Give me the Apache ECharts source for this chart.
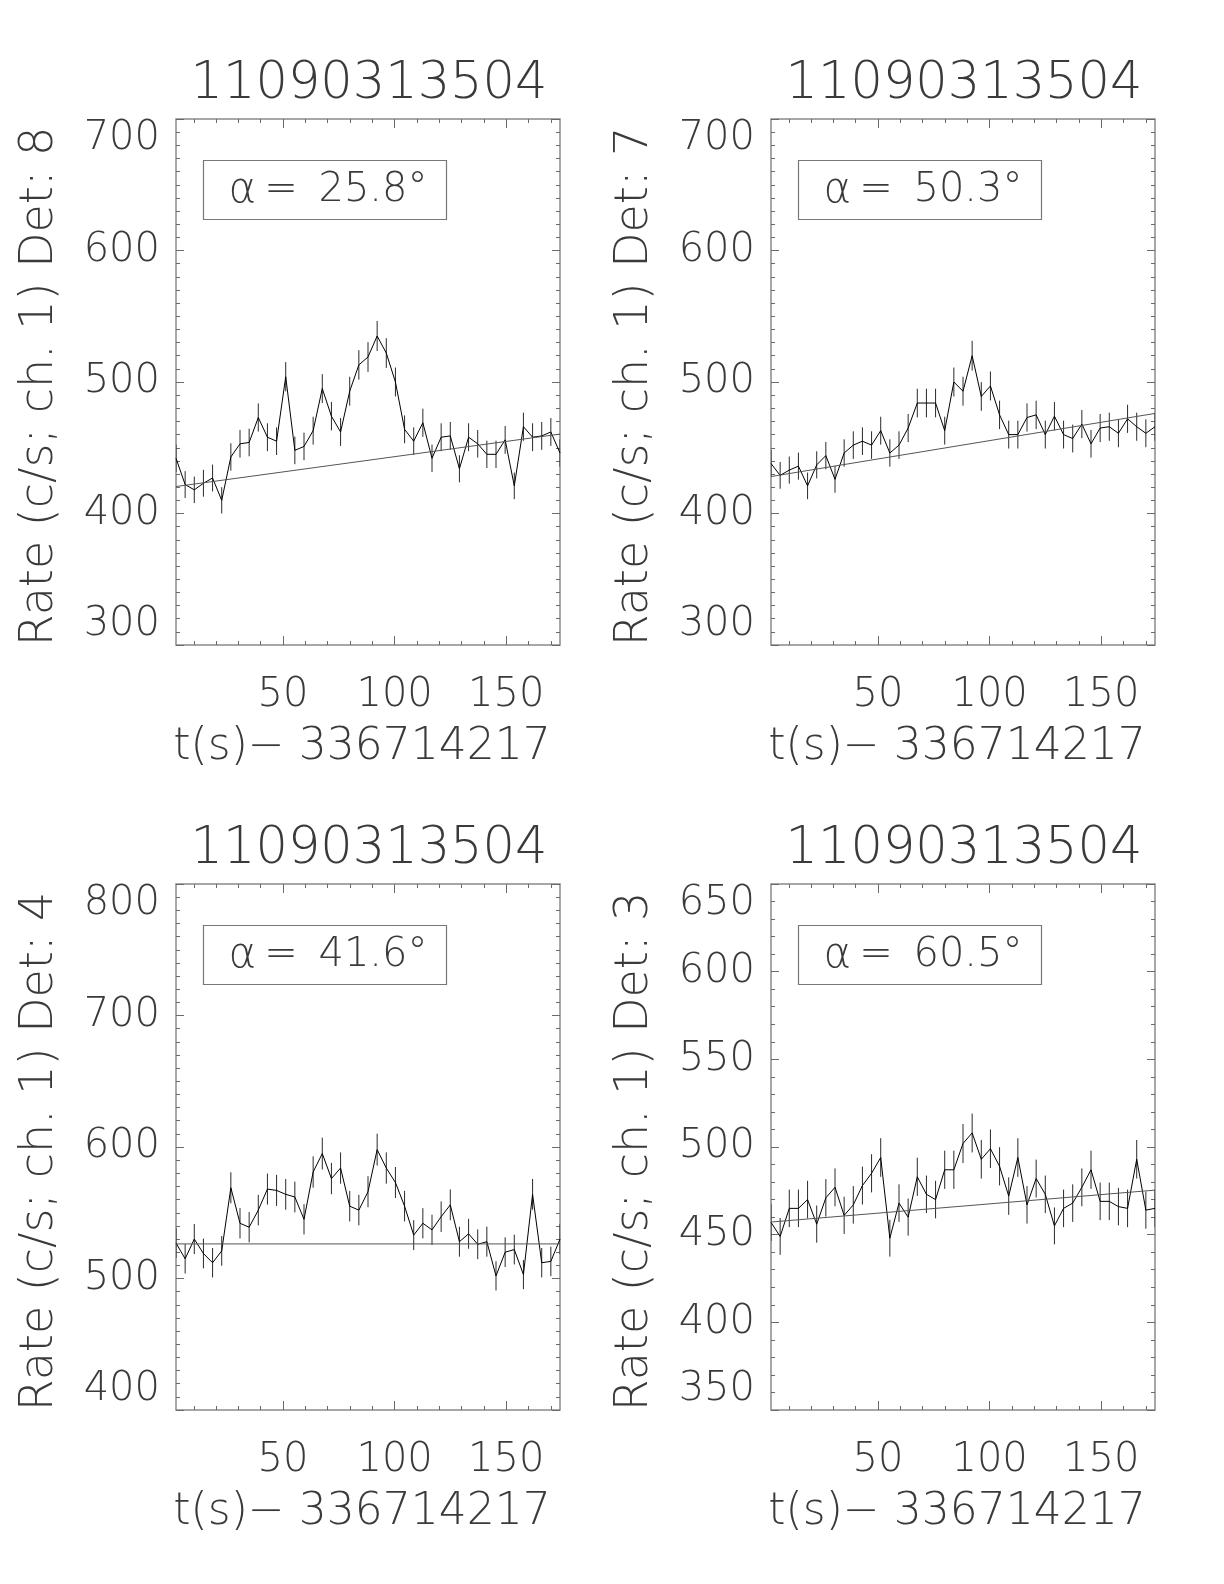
<!DOCTYPE html>
<html>
<head>
<meta charset="utf-8">
<script src="https://cdn.jsdelivr.net/npm/echarts@6/dist/echarts.min.js"></script>
<style>
html,body{margin:0;padding:0;background:#fff;}
#chart{width:1224px;height:1584px;}
</style>
</head>
<body>
<div id="chart"></div>
<script>
// ---------------- data ----------------
const titleText = '11090313504';
const xTitle = 't(s)\u2212 336714217';
const detectors = [8, 7, 4, 3];
const alphas = ['25.8', '50.3', '41.6', '60.5'];
const xTickLabels = [50, 100, 150];
const xMinorTicks = [10, 20, 30, 40, 60, 70, 80, 90, 110, 120, 130, 140, 160, 170];
const xRange = [2.048, 174.08];
const yMins = [300, 300, 400, 350];
const yMaxs = [700, 700, 800, 650];
const yIntervals = [100, 100, 100, 50];
const yMinorSplits = [10, 10, 10, 5];

const times = [2.048, 6.144, 10.24, 14.336, 18.432, 22.528, 26.624, 30.72, 34.816, 38.912,
  43.008, 47.104, 51.2, 55.296, 59.392, 63.488, 67.584, 71.68, 75.776, 79.872,
  83.968, 88.064, 92.16, 96.256, 100.352, 104.448, 108.544, 112.64, 116.736, 120.832,
  124.928, 129.024, 133.12, 137.216, 141.312, 145.408, 149.504, 153.6, 157.696, 161.792,
  165.888, 169.984, 174.08];

const rateDet8 = [442, 422, 418, 423, 427, 410, 443, 453, 454, 473, 458, 455, 504, 448, 451, 463, 495, 474, 462, 493, 513, 519, 535, 522, 500, 464, 455, 469, 442, 458, 459, 434, 458, 453, 445, 445, 456, 421, 466, 458, 459, 462, 446];
const errDet8 = [10.4, 10.2, 10.1, 10.2, 10.2, 10.0, 10.4, 10.5, 10.5, 10.7, 10.6, 10.5, 11.1, 10.5, 10.5, 10.6, 11.0, 10.8, 10.6, 11.0, 11.2, 11.3, 11.4, 11.3, 11.0, 10.6, 10.5, 10.7, 10.4, 10.6, 10.6, 10.3, 10.6, 10.5, 10.4, 10.4, 10.6, 10.1, 10.7, 10.6, 10.6, 10.6, 10.4];
const fitDet8 = [420.5, 460.4];

const rateDet7 = [438, 429, 433, 436, 421, 437, 444, 426, 446, 452, 455, 452, 463, 446, 452, 465, 484, 484, 484, 463, 500, 493, 520, 489, 497, 475, 460, 460, 473, 475, 460, 474, 460, 457, 468, 453, 465, 466, 461, 472, 466, 461, 466];
const errDet7 = [10.3, 10.2, 10.3, 10.3, 10.1, 10.3, 10.4, 10.2, 10.4, 10.5, 10.5, 10.5, 10.6, 10.4, 10.5, 10.7, 10.9, 10.9, 10.9, 10.6, 11.0, 11.0, 11.3, 10.9, 11.0, 10.8, 10.6, 10.6, 10.7, 10.8, 10.6, 10.8, 10.6, 10.6, 10.7, 10.5, 10.7, 10.7, 10.6, 10.7, 10.7, 10.6, 10.7];
const fitDet7 = [428.1, 476.1];

const rateDet4 = [527, 515, 530, 519, 512, 521, 569, 542, 539, 552, 568, 567, 564, 562, 545, 581, 595, 576, 584, 555, 552, 566, 598, 584, 573, 555, 533, 542, 537, 547, 556, 528, 534, 526, 528, 502, 520, 522, 503, 564, 512, 513, 530];
const errDet4 = [11.3, 11.2, 11.4, 11.3, 11.2, 11.3, 11.8, 11.5, 11.5, 11.6, 11.8, 11.8, 11.7, 11.7, 11.5, 11.9, 12.1, 11.9, 11.9, 11.6, 11.6, 11.8, 12.1, 11.9, 11.8, 11.6, 11.4, 11.5, 11.5, 11.6, 11.7, 11.4, 11.4, 11.3, 11.4, 11.1, 11.3, 11.3, 11.1, 11.7, 11.2, 11.2, 11.4];
const fitDet4 = [526.3, 526.3];

const rateDet3 = [457, 449, 465, 465, 470, 456, 471, 477, 461, 467, 478, 485, 494, 448, 468, 460, 483, 473, 470, 487, 487, 502, 508, 493, 499, 489, 472, 494, 467, 482, 473, 455, 465, 468, 477, 487, 469, 469, 466, 465, 493, 464, 465];
const errDet3 = [10.6, 10.5, 10.7, 10.7, 10.7, 10.6, 10.7, 10.8, 10.6, 10.7, 10.8, 10.9, 11.0, 10.5, 10.7, 10.6, 10.9, 10.7, 10.7, 10.9, 10.9, 11.1, 11.1, 11.0, 11.0, 10.9, 10.7, 11.0, 10.7, 10.8, 10.7, 10.5, 10.7, 10.7, 10.8, 10.9, 10.7, 10.7, 10.7, 10.7, 11.0, 10.6, 10.7];
const fitDet3 = [457.2, 475.4];

const rates = [rateDet8, rateDet7, rateDet4, rateDet3];
const errs = [errDet8, errDet7, errDet4, errDet3];
const fits = [fitDet8, fitDet7, fitDet4, fitDet3];

// ---------------- layout / style ----------------
const FONT = 'DejaVu Sans';
const FW = 200;
const TXT = '#3a3a3a';
const AX = '#6a6a6a';
const panels = [
  {left: 176, top: 119},
  {left: 771, top: 119},
  {left: 176, top: 884},
  {left: 771, top: 884}
];
const PW = 384, PH = 526;

const chart = echarts.init(document.getElementById('chart'), null, {renderer: 'canvas'});

const grid = [], xAxis = [], yAxis = [], series = [], title = [], graphic = [];

panels.forEach((p, k) => {
  grid.push({left: p.left, top: p.top, width: PW, height: PH, show: true,
    borderColor: '#8a8a8a', borderWidth: 1.5, backgroundColor: 'transparent', containLabel: false});

  const baseX = {
    type: 'value', gridIndex: k, min: xRange[0], max: xRange[1],
    axisLine: {show: false}, splitLine: {show: false}
  };
  // bottom major (with labels and name)
  xAxis.push(Object.assign({}, baseX, {
    position: 'bottom',
    axisTick: {show: true, inside: true, length: 9, customValues: xTickLabels, lineStyle: {color: AX, width: 1}},
    axisLabel: {show: true, customValues: xTickLabels, margin: 31, color: TXT,
      fontFamily: FONT, fontWeight: FW, fontSize: 40},
    name: xTitle, nameLocation: 'middle', nameGap: 81,
    nameTextStyle: {color: TXT, fontFamily: FONT, fontWeight: FW, fontSize: 44, padding: [0, 12, 0, 0]}
  }));
  // bottom minor
  xAxis.push(Object.assign({}, baseX, {
    position: 'bottom',
    axisTick: {show: true, inside: true, length: 4, customValues: xMinorTicks, lineStyle: {color: AX, width: 1}},
    axisLabel: {show: false}
  }));
  // top major
  xAxis.push(Object.assign({}, baseX, {
    position: 'top',
    axisTick: {show: true, inside: true, length: 9, customValues: xTickLabels, lineStyle: {color: AX, width: 1}},
    axisLabel: {show: false}
  }));
  // top minor
  xAxis.push(Object.assign({}, baseX, {
    position: 'top',
    axisTick: {show: true, inside: true, length: 4, customValues: xMinorTicks, lineStyle: {color: AX, width: 1}},
    axisLabel: {show: false}
  }));

  const baseY = {
    type: 'value', gridIndex: k, min: yMins[k], max: yMaxs[k], interval: yIntervals[k],
    axisLine: {show: false}, splitLine: {show: false},
    axisTick: {show: true, inside: true, length: 8, lineStyle: {color: AX, width: 1}},
    minorTick: {show: true, splitNumber: yMinorSplits[k], length: 4, lineStyle: {color: AX, width: 1}},
    minorSplitLine: {show: false}
  };
  yAxis.push(Object.assign({}, baseY, {
    position: 'left',
    axisLabel: {show: true, margin: 16, color: TXT, fontFamily: FONT, fontWeight: FW, fontSize: 40,
      verticalAlignMinLabel: 'bottom', verticalAlignMaxLabel: 'top'},
    name: 'Rate (c/s; ch. 1) Det: ' + detectors[k], nameLocation: 'middle', nameGap: 113,
    nameTextStyle: {color: TXT, fontFamily: FONT, fontWeight: FW, fontSize: 46, padding: [0, 9, 0, 0]}
  }));
  yAxis.push(Object.assign({}, baseY, {
    position: 'right',
    axisLabel: {show: false}
  }));

  const xi = k * 4, yi = k * 2;
  const r = rates[k], e = errs[k];

  series.push({
    type: 'custom', xAxisIndex: xi, yAxisIndex: yi, clip: true, silent: true,
    data: times.map((t, i) => [t, r[i] - e[i], r[i] + e[i]]),
    encode: {x: 0, y: [1, 2]},
    renderItem: function (params, api) {
      const a = api.coord([api.value(0), api.value(1)]);
      const b = api.coord([api.value(0), api.value(2)]);
      return {type: 'line', shape: {x1: a[0], y1: a[1], x2: b[0], y2: b[1]},
        style: {stroke: '#2a2a2a', lineWidth: 1}};
    }
  });
  series.push({
    type: 'line', xAxisIndex: xi, yAxisIndex: yi, symbol: 'none', silent: true,
    data: times.map((t, i) => [t, r[i]]),
    lineStyle: {color: '#000', width: 1}
  });
  series.push({
    type: 'line', xAxisIndex: xi, yAxisIndex: yi, symbol: 'none', silent: true,
    data: [[xRange[0], fits[k][0]], [xRange[1], fits[k][1]]],
    lineStyle: {color: '#555', width: 1}
  });

  title.push({
    text: titleText, left: p.left + PW / 2 + 1, top: p.top - 60, textAlign: 'center', padding: 0,
    textStyle: {color: TXT, fontFamily: FONT, fontWeight: FW, fontSize: 51}
  });

  graphic.push({
    type: 'rect', left: p.left + 25, top: p.top + 39, silent: true,
    shape: {x: 0, y: 0, width: 243, height: 59},
    style: {fill: 'none', stroke: '#777', lineWidth: 1.2}
  });
  graphic.push({
    type: 'text', silent: true,
    x: p.left + 152, y: p.top + 72,
    style: {
      text: '{a|\u03b1}{e|=} ' + alphas[k] + '\u00b0',
      rich: {
        a: {fontFamily: FONT, fontWeight: FW, fontSize: 42, fill: TXT},
        e: {fontFamily: FONT, fontWeight: FW, fontSize: 40, fill: TXT, padding: [0, 8, 0, 8]}
      },
      fontFamily: FONT, fontWeight: FW, fontSize: 40, fill: TXT,
      align: 'center', verticalAlign: 'middle'
    }
  });
});

chart.setOption({
  animation: false,
  backgroundColor: '#fff',
  textStyle: {fontFamily: FONT},
  title: title,
  grid: grid,
  xAxis: xAxis,
  yAxis: yAxis,
  series: series,
  graphic: graphic
});
</script>
</body>
</html>
